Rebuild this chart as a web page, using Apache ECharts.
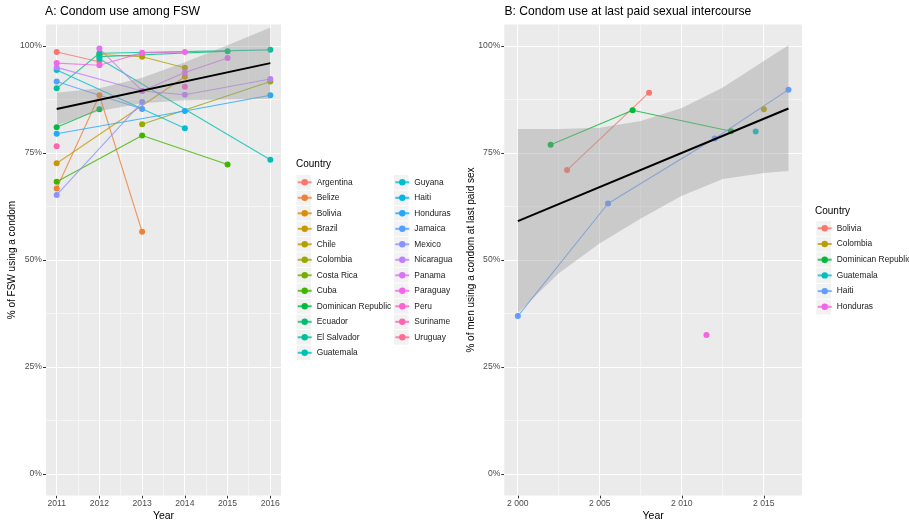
<!DOCTYPE html>
<html><head><meta charset="utf-8">
<script src="https://cdn.jsdelivr.net/npm/echarts@6/dist/echarts.min.js"></script>
<style>html,body{margin:0;padding:0;background:#fff}#c{width:909px;height:522px}</style>
</head><body><div id="c"></div>
<script>
// ---------- Panel A data ----------
const yearsA = [2011, 2012, 2013, 2014, 2015, 2016];
const countriesA = ['Argentina','Belize','Bolivia','Brazil','Chile','Colombia','Costa Rica','Cuba',
  'Dominican Republic','Ecuador','El Salvador','Guatemala','Guyana','Haiti','Honduras','Jamaica',
  'Mexico','Nicaragua','Panama','Paraguay','Peru','Suriname','Uruguay'];
const colorsA = ['#F8766D','#EC8239','#DD8D00','#C99800','#B3A000','#9AA800','#74AF00','#3FB500',
  '#00BA42','#00BE70','#00C098','#00C0B5','#00BDD0','#00B7E5','#1FA9FF','#539EFF',
  '#8B93FF','#BF80FF','#DC72F5','#F366E5','#FD61D2','#FF64B2','#FD6C91'];
const argentinaA = [98.6, 96.3, null, null, null, null];
const belizeA    = [66.7, 88.5, 56.6, null, null, null];
const boliviaA   = [null, null, null, null, null, null];
const brazilA    = [72.6, null, null, 92.8, null, null];
const chileA     = [null, 98.0, 97.5, 94.9, null, null];
const colombiaA  = [null, null, 81.7, null, null, 91.7];
const costaRicaA = [null, null, null, null, null, null];
const cubaA      = [68.3, null, 79.1, null, 72.3, null];
const domRepA    = [81.0, 85.2, null, null, null, null];
const ecuadorA   = [null, 97.5, null, null, 98.8, null];
const elSalvadorA= [90.1, 98.3, null, null, null, 99.1];
const guatemalaA = [null, 97.0, null, null, null, 73.4];
const guyanaA    = [94.4, null, null, 80.8, null, null];
const haitiA     = [null, null, null, null, null, null];
const hondurasA  = [79.5, null, null, 84.8, null, 88.5];
const jamaicaA   = [91.7, null, 85.3, null, null, null];
const mexicoA    = [65.2, null, 86.9, null, null, null];
const nicaraguaA = [95.0, null, 89.5, 88.6, null, 92.3];
const panamaA    = [null, 99.4, 89.5, 93.8, 97.2, null];
const paraguayA  = [96.0, 95.5, 98.4, 98.6, null, null];
const peruA      = [null, null, null, 90.5, null, null];
const surinameA  = [76.6, null, null, null, null, null];
const uruguayA   = [null, null, null, null, null, null];
const valuesA = [argentinaA, belizeA, boliviaA, brazilA, chileA, colombiaA, costaRicaA, cubaA,
  domRepA, ecuadorA, elSalvadorA, guatemalaA, guyanaA, haitiA, hondurasA, jamaicaA,
  mexicoA, nicaraguaA, panamaA, paraguayA, peruA, surinameA, uruguayA];
const fitAx = [2011, 2016];
const fitAy = [85.3, 96.0];
const bandAx  = [2011, 2012, 2013, 2014, 2015, 2016];
const bandAlo = [81.5, 84.8, 86.6, 87.3, 87.5, 87.7];
const bandAhi = [89.1, 90.1, 92.6, 96.2, 100.2, 104.3];

// ---------- Panel B data ----------
const countriesB = ['Bolivia','Colombia','Dominican Republic','Guatemala','Haiti','Honduras'];
const colorsB = ['#F8766D','#B79F00','#00BA38','#00BFC4','#619CFF','#F564E3'];
const boliviaB   = [[2003, 71.0], [2008, 89.1]];
const colombiaB  = [[2015, 85.2]];
const domRepB    = [[2002, 76.9], [2007, 85.0], [2013, 80.1]];
const guatemalaB = [[2014.5, 80.0]];
const haitiB     = [[2000, 36.9], [2005.5, 63.2], [2012, 78.4], [2016.5, 89.8]];
const hondurasB  = [[2011.5, 32.5]];
const valuesB = [boliviaB, colombiaB, domRepB, guatemalaB, haitiB, hondurasB];
const fitBx = [2000, 2016.5];
const fitBy = [59.1, 85.4];
const bandBx  = [2000, 2002.5, 2005, 2007.5, 2010, 2012.5, 2015, 2016.5];
const bandBlo = [37.6, 46.9, 53.9, 59.7, 65.0, 68.9, 70.3, 70.8];
const bandBhi = [80.6, 80.6, 80.9, 82.5, 85.5, 90.3, 96.5, 100.2];

// ---------- axes / ticks ----------
const yMinAx = -5, yMaxAx = 105;
const xRangeA = [2010.75, 2016.25];
const xRangeB = [1999.175, 2017.325];
const yTicks = [0, 25, 50, 75, 100];
const yMinor = [12.5, 37.5, 62.5, 87.5];
const xTicksA = [2011, 2012, 2013, 2014, 2015, 2016];
const xMinorA = [2011.5, 2012.5, 2013.5, 2014.5, 2015.5];
const xTicksB = [2000, 2005, 2010, 2015];
const xMinorB = [2002.5, 2007.5, 2012.5];

const FONT = '"Liberation Sans", Arial, sans-serif';
const chart = echarts.init(document.getElementById('c'), null, {renderer: 'canvas'});

function panel(xi, xMaj, xMin, xr) {
  return {
    type: 'custom', name: 'panel' + xi, xAxisIndex: xi, yAxisIndex: xi, z: 1, silent: true, animation: false,
    clip: false,
    data: [[(xr[0] + xr[1]) / 2, 50]],
    renderItem: (params, api) => {
      const tl = api.coord([xr[0], yMaxAx]), br = api.coord([xr[1], yMinAx]);
      const ch = [{type: 'rect', z2: 0, shape: {x: tl[0], y: tl[1], width: br[0] - tl[0], height: br[1] - tl[1]},
        style: {fill: '#EBEBEB', stroke: null}}];
      const snap = v => Math.round(v - 0.5) + 0.5;
      const hline = (v, w, c) => { const y = snap(api.coord([xr[0], v])[1]);
        ch.push({type: 'line', z2: 1, shape: {x1: tl[0], y1: y, x2: br[0], y2: y}, style: {stroke: c, lineWidth: w}}); };
      const vline = (v, w, c) => { const x = snap(api.coord([v, yMinAx])[0]);
        ch.push({type: 'line', z2: 1, shape: {x1: x, y1: tl[1], x2: x, y2: br[1]}, style: {stroke: c, lineWidth: w}}); };
      yMinor.forEach(v => hline(v, 1, '#F5F5F5'));
      xMin.forEach(v => vline(v, 1, '#F5F5F5'));
      yTicks.forEach(v => hline(v, 1, '#FFFFFF'));
      xMaj.forEach(v => vline(v, 1, '#FFFFFF'));
      return {type: 'group', children: ch};
    }
  };
}
function band(xi, xs, lo, hi) {
  return {
    type: 'custom', xAxisIndex: xi, yAxisIndex: xi, z: 5, silent: true, animation: false,
    data: [[xs[0], lo[0]]],
    renderItem: (params, api) => {
      const pts = [];
      for (let i = 0; i < xs.length; i++) pts.push(api.coord([xs[i], hi[i]]));
      for (let i = xs.length - 1; i >= 0; i--) pts.push(api.coord([xs[i], lo[i]]));
      return {type: 'polygon', shape: {points: pts}, style: {fill: 'rgba(153,153,153,0.4)'}};
    }
  };
}
function fit(xi, xs, ys) {
  return {type: 'line', xAxisIndex: xi, yAxisIndex: xi, z: 6, silent: true, animation: false,
    data: xs.map((x, i) => [x, ys[i]]), symbol: 'none', lineStyle: {color: '#000', width: 2}};
}
function countrySeries(name, color, data, xi) {
  return {name: name, type: 'line', xAxisIndex: xi, yAxisIndex: xi, z: 3, animation: false,
    data: data, symbol: 'circle', symbolSize: 6, showSymbol: true, showAllSymbol: true,
    lineStyle: {color: color, width: 1.1, opacity: 0.8}, itemStyle: {color: color}};
}

const series = [];
series.push(panel(0, xTicksA, xMinorA, xRangeA));
series.push(panel(1, xTicksB, xMinorB, xRangeB));
countriesA.forEach((n, i) => {
  const d = [];
  yearsA.forEach((y, j) => { if (valuesA[i][j] != null) d.push([y, valuesA[i][j]]); });
  series.push(countrySeries(n, colorsA[i], d, 0));
});
countriesB.forEach((n, i) => series.push(countrySeries(n + ' ', colorsB[i], valuesB[i], 1)));
series.push(band(0, bandAx, bandAlo, bandAhi));
series.push(band(1, bandBx, bandBlo, bandBhi));
series.push(fit(0, fitAx, fitAy));
series.push(fit(1, fitBx, fitBy));

const axisText = {fontSize: 8.6, color: '#4D4D4D', fontFamily: FONT};
function xAxis(gi, xr, ticks, fmt) {
  return {type: 'value', gridIndex: gi, min: xr[0], max: xr[1], name: 'Year', nameLocation: 'middle', nameGap: 15,
    nameMoveOverlap: false,
    nameTextStyle: {fontSize: 10.5, color: '#000', fontFamily: FONT},
    axisLine: {show: false, onZero: false}, splitLine: {show: false}, splitArea: {show: false},
    axisTick: {show: true, length: 3, customValues: ticks, lineStyle: {color: '#333'}},
    axisLabel: Object.assign({margin: 4, customValues: ticks, formatter: fmt}, axisText)};
}
function yAxis(gi, name, gap) {
  return {type: 'value', gridIndex: gi, min: yMinAx, max: yMaxAx, name: name, nameLocation: 'middle', nameGap: gap,
    nameMoveOverlap: false,
    nameRotate: 90, nameTextStyle: {fontSize: 10, color: '#000', fontFamily: FONT},
    axisLine: {show: false, onZero: false}, splitLine: {show: false}, splitArea: {show: false},
    axisTick: {show: true, length: 3, customValues: yTicks, lineStyle: {color: '#333'}},
    axisLabel: Object.assign({margin: 4, customValues: yTicks, formatter: v => v + '%'}, axisText)};
}

const legendCommon = {orient: 'vertical', itemWidth: 14, itemHeight: 8, selectedMode: false, padding: 0,
  textStyle: {fontSize: 8.4, lineHeight: 11, color: '#1A1A1A', fontFamily: FONT}};

const graphics = [
  {type: 'text', left: 45, top: 6, style: {text: 'A: Condom use among FSW', fontSize: 12.2, fill: '#000', fontFamily: FONT}},
  {type: 'text', left: 504.5, top: 6, style: {text: 'B: Condom use at last paid sexual intercourse', fontSize: 12.1, fill: '#000', fontFamily: FONT}},
  {type: 'text', left: 296, top: 159.5, style: {text: 'Country', fontSize: 10, fill: '#000', fontFamily: FONT}},
  {type: 'text', left: 815, top: 206, style: {text: 'Country', fontSize: 10, fill: '#000', fontFamily: FONT}}
];
for (let i = 0; i < 12; i++) graphics.push({type: 'rect', z: -1, shape: {x: 296.5, y: 175 + i * 15.5, width: 14.5, height: 14.7}, style: {fill: '#F2F2F2'}});
for (let i = 0; i < 11; i++) graphics.push({type: 'rect', z: -1, shape: {x: 394, y: 175 + i * 15.5, width: 14.5, height: 14.7}, style: {fill: '#F2F2F2'}});
for (let i = 0; i < 6; i++) graphics.push({type: 'rect', z: -1, shape: {x: 816.3, y: 221 + i * 15.7, width: 14.7, height: 14.9}, style: {fill: '#F2F2F2'}});

chart.setOption({
  animation: false,
  backgroundColor: '#ffffff',
  textStyle: {fontFamily: FONT},
  grid: [
    {left: 46, top: 24.6, width: 235, height: 470.8, show: false, outerBoundsMode: 'none', containLabel: false},
    {left: 504.3, top: 24.6, width: 297.7, height: 470.8, show: false, outerBoundsMode: 'none', containLabel: false}
  ],
  xAxis: [
    xAxis(0, xRangeA, xTicksA, v => String(v)),
    xAxis(1, xRangeB, xTicksB, v => String(v).replace(/^(\d)(\d{3})$/, '$1 $2'))
  ],
  yAxis: [
    yAxis(0, '% of FSW using a condom', 28.5),
    yAxis(1, '% of men using a condom at last paid sex', 28.2)
  ],
  legend: [
    Object.assign({data: countriesA.slice(0, 12), left: 296.7, top: 176.8, itemGap: 4.5}, legendCommon),
    Object.assign({data: countriesA.slice(12), left: 394.3, top: 176.8, itemGap: 4.5}, legendCommon),
    Object.assign({data: countriesB.map(n => n + ' '), left: 816.7, top: 222.8, itemGap: 4.7}, legendCommon)
  ],
  graphic: graphics,
  series: series
});
</script>
</body></html>
